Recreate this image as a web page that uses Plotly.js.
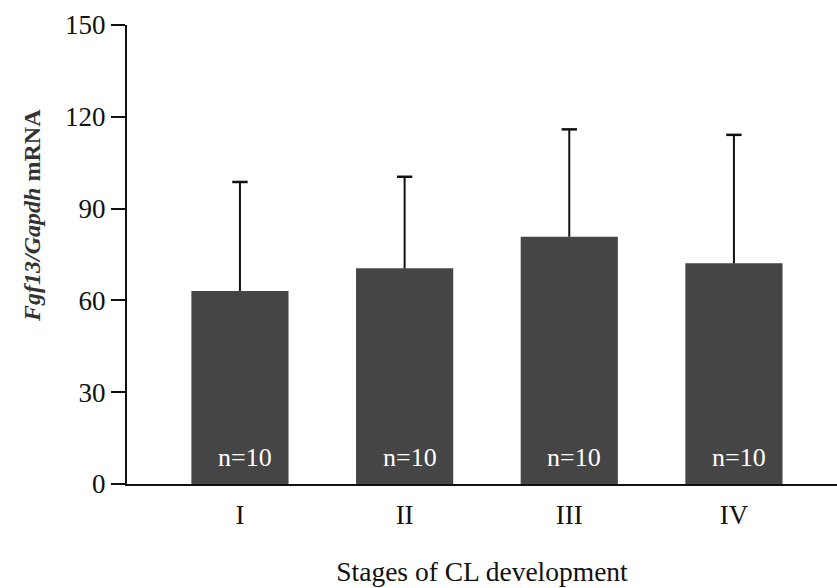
<!DOCTYPE html>
<html><head><meta charset="utf-8">
<script src="https://cdn.plot.ly/plotly-3.0.1.min.js"></script>
<style>body{margin:0;background:#fff}#chart{width:837px;height:588px}</style>
</head><body><div id="chart"></div>
<script>
const stages = ["I", "II", "III", "IV"];
const means = [63.1, 70.5, 80.8, 72.1];
const errors = [35.6, 29.9, 35.1, 42.0];
const nLabels = ["n=10", "n=10", "n=10", "n=10"];
const yTicks = [0, 30, 60, 90, 120, 150];

const serif = "Liberation Serif, Times New Roman, serif";
const xs = stages.map((s, i) => i);

// one-sided (upper) error bars: stem from bar top to mean+error, cap at top
const stemX = [], stemY = [];
xs.forEach((x, i) => { stemX.push(x, x, null); stemY.push(means[i], means[i] + errors[i], null); });
const tops = means.map((m, i) => m + errors[i]);

const bars = {
  type: "bar", x: xs, y: means, width: 0.59,
  marker: {color: "#454545", line: {width: 0}}, hoverinfo: "none"
};
const stems = {
  type: "scatter", mode: "lines", x: stemX, y: stemY,
  line: {color: "#111", width: 2}, hoverinfo: "none"
};
const caps = {
  type: "scatter", mode: "markers", x: xs, y: tops,
  marker: {symbol: "line-ew", size: 11, line: {color: "#111", width: 2.5}}, hoverinfo: "none"
};
const annotations = stages.map((s, i) => ({
  x: i + 0.03, y: 0, xref: "x", yref: "y", text: nLabels[i], showarrow: false,
  yanchor: "bottom", yshift: 10, font: {family: serif, size: 26, color: "#fff"}
}));
annotations.push({
  xref: "paper", yref: "paper", x: -0.134, y: 0.586, xanchor: "center", yanchor: "middle",
  textangle: -90, showarrow: false,
  text: "<b><i>Fgf13/Gapdh</i> mRNA</b>", font: {family: serif, size: 24, color: "#333"}
});
const layout = {
  width: 837, height: 588,
  margin: {l: 127, r: 0, t: 25, b: 104},
  paper_bgcolor: "#fff", plot_bgcolor: "#fff",
  showlegend: false,
  font: {family: serif, color: "#111"},
  xaxis: {
    range: [-0.686, 3.626], tickvals: xs, ticktext: stages,
    showline: true, linecolor: "#111", linewidth: 2, ticks: "", showgrid: false, zeroline: false,
    ticklabelstandoff: 6,
    tickfont: {family: serif, size: 27, color: "#111"},
    title: {text: "Stages of CL development", font: {family: serif, size: 27.5, color: "#111"}, standoff: 32}
  },
  yaxis: {
    range: [0, 150], tickvals: yTicks, showline: true, linecolor: "#111", linewidth: 2,
    ticks: "outside", ticklen: 14, tickwidth: 2, tickcolor: "#111",
    showgrid: false, zeroline: false,
    tickfont: {family: serif, size: 27, color: "#111"}
  },
  annotations: annotations
};
Plotly.newPlot("chart", [bars, stems, caps], layout, {staticPlot: true});
</script></body></html>
